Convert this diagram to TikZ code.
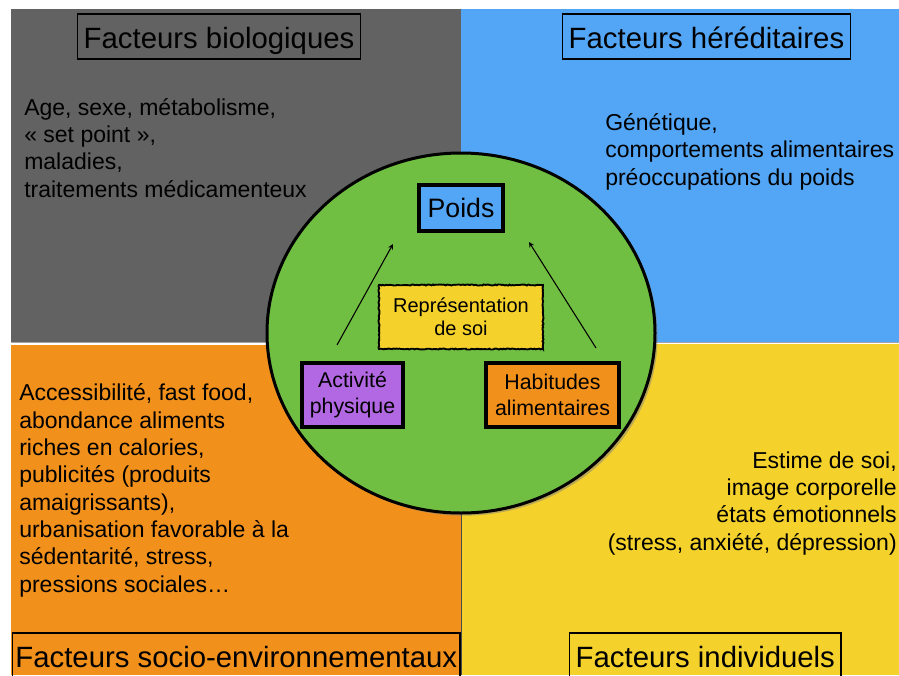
\documentclass[tikz,border=0pt]{standalone}
\usepackage{fontspec}
\setmainfont{Liberation Sans}
\usetikzlibrary{shapes.geometric, arrows, shadows, decorations.pathmorphing}
\definecolor{biogray}{HTML}{626262}
\definecolor{heredblue}{HTML}{53A6F6}
\definecolor{socioorange}{HTML}{F2901C}
\definecolor{indivyellow}{HTML}{F5D22B}
\definecolor{soigreen}{HTML}{70BF43}
\definecolor{actpurple}{HTML}{B268E2}
\tikzstyle{headbox} = [draw=black, line width=1.1pt, inner xsep=4.5pt, inner ysep=0pt, text height=25.5pt, text depth=8.25pt, anchor=base west, font=\fontsize{22}{26}\selectfont]
\tikzstyle{listtext} = [inner sep=0pt, align=left, anchor=base west, font=\fontsize{17.25}{20.5}\selectfont]
\tikzstyle{factorbox} = [rectangle, draw=black, line width=2.6pt, align=center, inner sep=0pt, minimum height=48pt, font=\fontsize{16}{19.5}\selectfont]
\tikzstyle{arrow} = [line width=0.8pt, ->, >=stealth]

\begin{document}
\begin{tikzpicture}[x=0.75pt, y=-0.75pt]
	\useasboundingbox (0,0) rectangle (899,675);
	
		% Draw the panels
		\fill[socioorange] (11,345) rectangle (461,675);
		\fill[indivyellow] (461,344) rectangle (899,675);
		\draw[black!70, line width=0.6pt] (461,513) -- (461,675);
		\fill[biogray, drop shadow={shadow xshift=0pt, shadow yshift=-1pt, opacity=0.7}] (11,9) rectangle (461,342);
		\fill[heredblue, drop shadow={shadow xshift=0pt, shadow yshift=-1pt, opacity=0.7}] (461,9) rectangle (899,342);
		
		% Draw the titles and lists (lists sit on their last line)
		\node (bio) [headbox] at (77,48) {Facteurs biologiques};
		\node (hered) [headbox] at (562,48) {Facteurs héréditaires};
		\node (socio) [headbox, inner xsep=2pt] at (12,667) {Facteurs socio-environnementaux};
		\node (indiv) [headbox] at (569,667) {Facteurs individuels};
		\node (biolist) [listtext] at (24,197) {Age, sexe, métabolisme,\\ « set point »,\\ maladies,\\ traitements médicamenteux};
		\node (heredlist) [listtext] at (605,185) {Génétique,\\ comportements alimentaires\\ préoccupations du poids};
		\node (sociolist) [listtext] at (19,592) {Accessibilité, fast food,\\ abondance aliments\\ riches en calories,\\ publicités (produits\\ amaigrissants),\\ urbanisation favorable à la\\ sédentarité, stress,\\ pressions sociales…};
		\node (indivlist) [listtext, align=right, anchor=base east] at (897,550) {Estime de soi,\\ image corporelle\\ états émotionnels\\ (stress, anxiété, dépression)};
		
		% Draw the circle and its boxes
		\node (cercle) [ellipse, draw=black, line width=2.25pt, fill=soigreen, inner sep=0pt, minimum width=291pt, minimum height=270pt, drop shadow={shadow xshift=2pt, shadow yshift=-2pt, opacity=0.5}] at (461,333) {};
		\node (poids) [factorbox, fill=heredblue, minimum width=63pt, minimum height=34.5pt, font=\fontsize{20}{24}\selectfont] at (461,208) {Poids};
		\node (repr) [factorbox, fill=indivyellow, line width=1.4pt, minimum width=123pt, font=\fontsize{15}{17.25}\selectfont, decorate, decoration={random steps, segment length=1.2pt, amplitude=0.4pt}] at (461,317) {Représentation\\ de soi};
		\node (act) [factorbox, fill=actpurple, minimum width=75.75pt] at (352.5,395) {Activité\\ physique};
		\node (hab) [factorbox, fill=socioorange, minimum width=99.75pt] at (552.5,395) {Habitudes\\ alimentaires};
		\coordinate (actup) at (337,345);
		\coordinate (poidsleft) at (393,244);
		\coordinate (habup) at (596,348);
		\coordinate (poidsright) at (529,242);
		
		%Draw the arrows
		\draw [arrow] (actup) -- (poidsleft);
		\draw [arrow] (habup) -- (poidsright);
	
	\end{tikzpicture}
\end{document}
